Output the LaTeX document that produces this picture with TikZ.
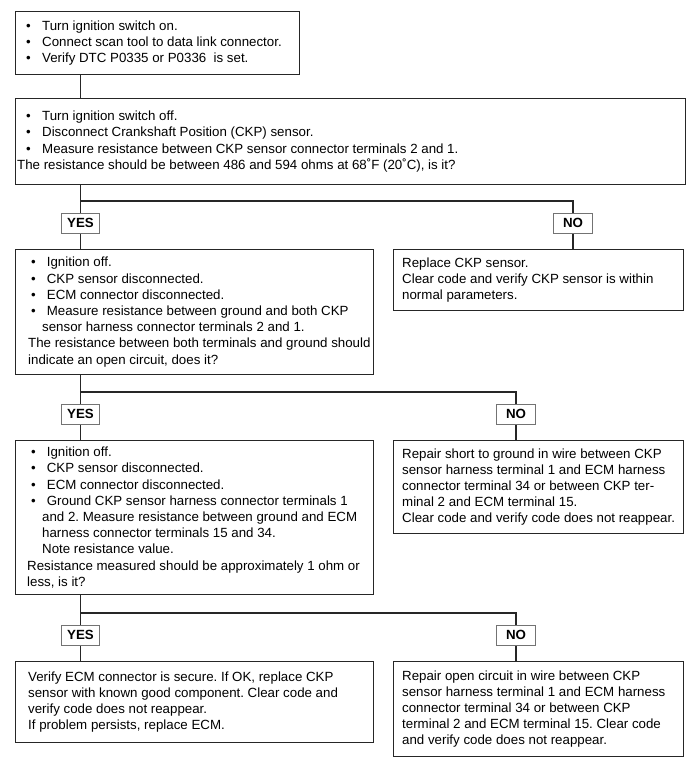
\documentclass[tikz,border=0pt]{standalone}
\usepackage{fontspec}
\setmainfont{Liberation Sans}
\newcommand\bul[1][16pt]{\makebox[#1][l]{\textbullet}}
\frenchspacing
\begin{document}
\begin{tikzpicture}[x=1pt,y=-1pt,
  box/.style={draw=black!85, line width=1.1pt, rectangle, inner sep=0pt, anchor=north west},
  txt/.style={align=left, inner sep=0pt, anchor=west, font=\fontsize{13.3}{16.2}\selectfont\frenchspacing, text=black},
  lab/.style={draw=black!55, line width=0.9pt, minimum width=38.6pt, minimum height=20.7pt, inner sep=0pt, font=\fontsize{13.3}{16}\selectfont\bfseries, fill=white},
  conn/.style={line width=1.1pt, draw=black!85}]
\useasboundingbox (0,0) rectangle (700,772);

% boxes
\node[box, minimum width=284pt, minimum height=63pt] (b1) at (15,11) {};
\node[box, minimum width=670pt, minimum height=86pt] (b2) at (15,98) {};
\node[box, minimum width=358pt, minimum height=125pt] (b3) at (15,249) {};
\node[box, minimum width=290pt, minimum height=61pt] (b4) at (393,249) {};
\node[box, minimum width=358pt, minimum height=154pt] (b5) at (15,440) {};
\node[box, minimum width=290pt, minimum height=93pt] (b6) at (393,440) {};
\node[box, minimum width=358pt, minimum height=81pt] (b8) at (15,661) {};
\node[box, minimum width=290pt, minimum height=95pt] (b7) at (393,661) {};

% texts
\node[txt] (t1) at ([xshift=11pt]b1.west) {\bul Turn ignition switch on.\\
\bul Connect scan tool to data link connector.\\
\bul Verify DTC P0335 or P0336\ \ is set.};
\node[txt] (t2) at ([xshift=11pt]b2.west) {\bul Turn ignition switch off.\\
\bul Disconnect Crankshaft Position (CKP) sensor.\\
\bul Measure resistance between CKP sensor connector terminals 2 and 1.\\
\hspace*{-9pt}The resistance should be between 486 and 594 ohms at 68˚F (20˚C), is it?};
\node[txt] (t3) at ([xshift=16pt]b3.west) {\bul[12pt] Ignition off.\\
\bul[12pt] CKP sensor disconnected.\\
\bul[12pt] ECM connector disconnected.\\
\bul[12pt] Measure resistance between ground and both CKP\\
\hspace*{11pt}sensor harness connector terminals 2 and 1.\\
\hspace*{-3pt}The resistance between both terminals and ground should\\
\hspace*{-3pt}indicate an open circuit, does it?};
\node[txt] (t4) at ([xshift=9pt]b4.west) {Replace CKP sensor.\\
Clear code and verify CKP sensor is within\\
normal parameters.};
\node[txt] (t5) at ([xshift=16pt]b5.west) {\bul[12pt] Ignition off.\\
\bul[12pt] CKP sensor disconnected.\\
\bul[12pt] ECM connector disconnected.\\
\bul[12pt] Ground CKP sensor harness connector terminals 1\\
\hspace*{11pt}and 2. Measure resistance between ground and ECM\\
\hspace*{11pt}harness connector terminals 15 and 34.\\
\hspace*{11pt}Note resistance value.\\
\hspace*{-4pt}Resistance measured should be approximately 1 ohm or\\
\hspace*{-4pt}less, is it?};
\node[txt] (t6) at ([xshift=9pt]b6.west) {Repair short to ground in wire between CKP\\
sensor harness terminal 1 and ECM harness\\
connector terminal 34 or between CKP ter-\\
minal 2 and ECM terminal 15.\\
Clear code and verify code does not reappear.};
\node[txt] (t8) at ([xshift=13pt]b8.west) {Verify ECM connector is secure. If OK, replace CKP\\
sensor with known good component. Clear code and\\
verify code does not reappear.\\
If problem persists, replace ECM.};
\node[txt] (t7) at ([xshift=9pt]b7.west) {Repair open circuit in wire between CKP\\
sensor harness terminal 1 and ECM harness\\
connector terminal 34 or between CKP\\
terminal 2 and ECM terminal 15. Clear code\\
and verify code does not reappear.};

% labels
\node[lab] (yes1) at (80.5,223.4) {YES};
\node[lab] (no1) at (573,223.4) {NO};
\node[lab] (yes2) at (80.5,414.4) {YES};
\node[lab] (no2) at (516,414.4) {NO};
\node[lab] (yes3) at (80.5,635.4) {YES};
\node[lab] (no3) at (516,635.4) {NO};

\coordinate (j1) at (80.5,201);
\coordinate (j2) at (80.5,392);
\coordinate (j3) at (80.5,613);

% connectors
\draw[conn] (b1.south -| yes1) -- (b2.north -| yes1);
\draw[conn] (b2.south -| yes1) -- (yes1.north);
\draw[conn] (yes1.south) -- (b3.north -| yes1);
\draw[conn] (j1) -| (no1.north);
\draw[conn] (no1.south) -- (b4.north -| no1);
\draw[conn] (b3.south -| yes2) -- (yes2.north);
\draw[conn] (yes2.south) -- (b5.north -| yes2);
\draw[conn] (j2) -| (no2.north);
\draw[conn] (no2.south) -- (b6.north -| no2);
\draw[conn] (b5.south -| yes3) -- (yes3.north);
\draw[conn] (yes3.south) -- (b8.north -| yes3);
\draw[conn] (j3) -| (no3.north);
\draw[conn] (no3.south) -- (b7.north -| no3);
\end{tikzpicture}
\end{document}
